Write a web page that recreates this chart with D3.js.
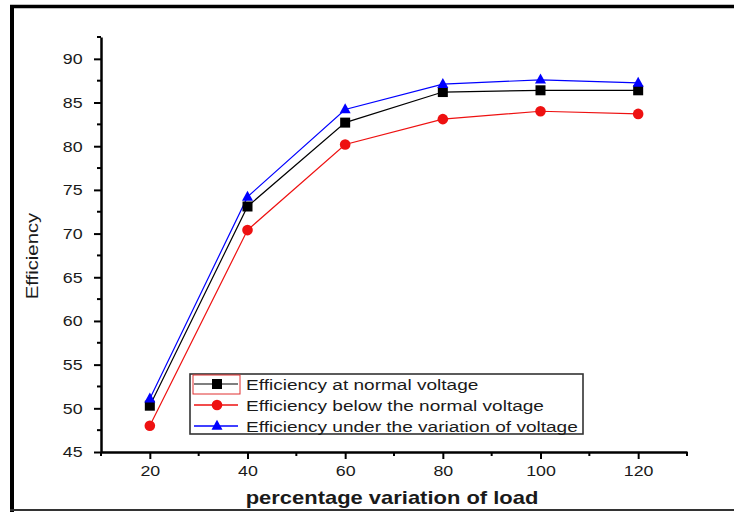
<!DOCTYPE html>
<html>
<head>
<meta charset="utf-8">
<script src="https://cdn.jsdelivr.net/npm/d3@7"></script>
<style>
  html, body { margin: 0; padding: 0; background: #fff; }
  svg { display: block; }
  text { font-family: "Liberation Sans", Arial, sans-serif; fill: #1a1a1a; }
</style>
</head>
<body>
<svg id="chart" width="734" height="512"></svg>
<script>
const loads = [20, 40, 60, 80, 100, 120];
const normalVoltage = [50.3, 73.1, 82.7, 86.2, 86.4, 86.4];
const belowNormal = [48.0, 70.4, 80.2, 83.1, 84.0, 83.7];
const underVariation = [51.1, 74.2, 84.2, 87.1, 87.6, 87.25];
const xTicks = [20, 40, 60, 80, 100, 120];
const yTicks = [45, 50, 55, 60, 65, 70, 75, 80, 85, 90];
const seriesNames = [
  "Efficiency at normal voltage",
  "Efficiency below the normal voltage",
  "Efficiency under the variation of voltage"
];
const xTitle = "percentage variation of load";
const yTitle = "Efficiency";

const series = [
  { name: seriesNames[0], values: normalVoltage, color: "#000000", legendLine: "#555555", marker: "square" },
  { name: seriesNames[1], values: belowNormal, color: "#ee1111", legendLine: "#ee1111", marker: "circle" },
  { name: seriesNames[2], values: underVariation, color: "#0000ff", legendLine: "#0000ff", marker: "triangle" }
];

const svg = d3.select("#chart");

// outer frame
svg.append("line").attr("x1", 10).attr("x2", 734).attr("y1", 6.5).attr("y2", 6.5)
  .attr("stroke", "#000").attr("stroke-width", 3.5);
svg.append("line").attr("x1", 12).attr("x2", 12).attr("y1", 5).attr("y2", 512)
  .attr("stroke", "#000").attr("stroke-width", 4);
svg.append("line").attr("x1", 10).attr("x2", 734).attr("y1", 510).attr("y2", 510)
  .attr("stroke", "#333").attr("stroke-width", 2);

const x = d3.scaleLinear().domain([10, 130]).range([101, 687]);
const y = d3.scaleLinear().domain([45, 92.5]).range([452, 37]);

// minor ticks
const xMinor = d3.range(10, 131, 10).filter(v => v % 20 !== 0);
const yMinor = d3.range(47.5, 93, 5);
svg.append("g").selectAll("line").data(xMinor).join("line")
  .attr("x1", d => x(d)).attr("x2", d => x(d)).attr("y1", 452).attr("y2", 456)
  .attr("stroke", "#000").attr("stroke-width", 2);
svg.append("g").selectAll("line").data(yMinor).join("line")
  .attr("y1", d => y(d)).attr("y2", d => y(d)).attr("x1", 101).attr("x2", 97)
  .attr("stroke", "#000").attr("stroke-width", 2);

// axes
const xAxis = svg.append("g").attr("transform", "translate(0,452)")
  .call(d3.axisBottom(x).tickValues(xTicks).tickSize(7).tickSizeOuter(0).tickPadding(6));
const yAxis = svg.append("g").attr("transform", "translate(101,0)")
  .call(d3.axisLeft(y).tickValues(yTicks).tickSize(7).tickSizeOuter(0).tickPadding(9));
[xAxis, yAxis].forEach(g => {
  g.select(".domain").attr("stroke", "#000").attr("stroke-width", 2.5);
  g.selectAll(".tick line").attr("stroke", "#000").attr("stroke-width", 2);
  g.selectAll(".tick text").attr("font-size", 15.5)
    .attr("font-family", '"Liberation Sans", Arial, sans-serif')
    .attr("fill", "#1a1a1a").attr("transform", "scale(1.15,1)");
});

// lines
const line = d3.line().x((d, i) => x(loads[i])).y(d => y(d));
series.forEach(s => {
  svg.append("path").datum(s.values).attr("d", line)
    .attr("fill", "none").attr("stroke", s.color).attr("stroke-width", 1.2);
});

function drawMarker(g, type, cx, cy, color) {
  if (type === "square") {
    g.append("rect").attr("x", cx - 5).attr("y", cy - 5).attr("width", 10).attr("height", 10).attr("fill", color);
  } else if (type === "circle") {
    g.append("circle").attr("cx", cx).attr("cy", cy).attr("r", 5.3).attr("fill", color);
  } else {
    const s = 11, h = 10;
    g.append("path").attr("d", `M${cx},${cy - h * 0.62} L${cx + s / 2},${cy + h * 0.38} L${cx - s / 2},${cy + h * 0.38} Z`).attr("fill", color);
  }
}

// markers (drawn after lines)
[series[1], series[0], series[2]].forEach(s => {
  const g = svg.append("g");
  s.values.forEach((v, i) => drawMarker(g, s.marker, x(loads[i]), y(v), s.color));
});

// legend
const lg = svg.append("g");
lg.append("rect").attr("x", 190).attr("y", 374).attr("width", 393).attr("height", 60)
  .attr("fill", "#fff").attr("stroke", "#333").attr("stroke-width", 1.6);
const rowY = [384, 405, 426];
series.forEach((s, i) => {
  lg.append("line").attr("x1", 194).attr("x2", 238).attr("y1", rowY[i]).attr("y2", rowY[i])
    .attr("stroke", s.legendLine).attr("stroke-width", 1.5);
  drawMarker(lg, s.marker, 217, rowY[i], s.color);
  lg.append("g").attr("transform", `translate(246,${rowY[i] + 5.5}) scale(1.27,1)`)
    .append("text").attr("font-size", 15).text(s.name);
});
lg.append("rect").attr("x", 193).attr("y", 375).attr("width", 47).attr("height", 19)
  .attr("fill", "none").attr("stroke", "#e03030").attr("stroke-width", 1);

// axis titles
svg.append("g").attr("transform", "translate(392,504) scale(1.22,1)")
  .append("text").attr("text-anchor", "middle").attr("font-size", 18).attr("font-weight", "bold")
  .text(xTitle);
svg.append("g").attr("transform", "translate(38,256) rotate(-90) scale(1.27,1)")
  .append("text").attr("text-anchor", "middle").attr("font-size", 16)
  .text(yTitle);
</script>
</body>
</html>
